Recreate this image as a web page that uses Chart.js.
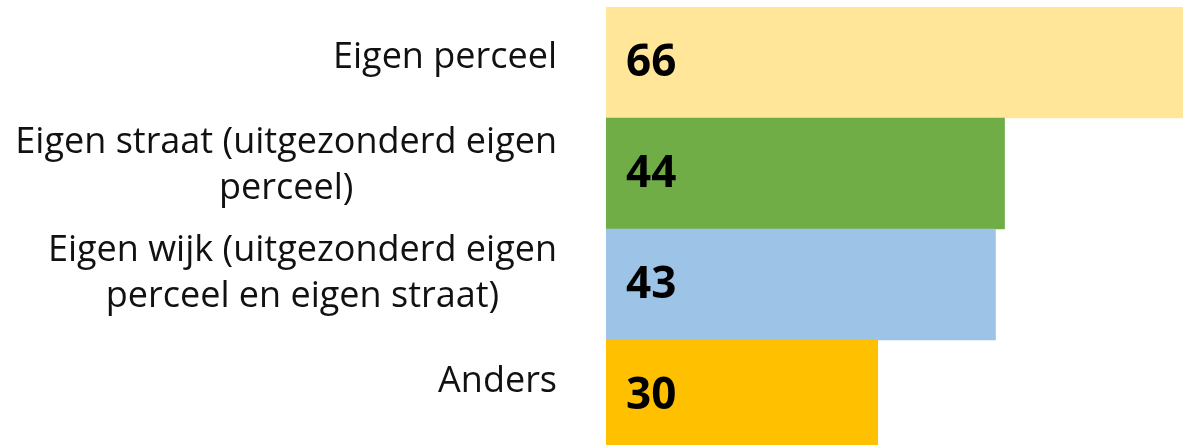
<!DOCTYPE html>
<html>
<head>
<meta charset="utf-8">
<script src="https://cdn.jsdelivr.net/npm/chart.js@4/dist/chart.umd.min.js"></script>
<style>
  html, body { margin: 0; padding: 0; background: #ffffff; overflow: hidden; }
  #wrap { position: relative; width: 1240px; height: 451px; }
</style>
</head>
<body>
<div id="wrap"><canvas id="c"></canvas></div>
<script>
const categories = [
  ["Eigen perceel"],
  ["Eigen straat (uitgezonderd eigen", "perceel)"],
  ["Eigen wijk (uitgezonderd eigen", "perceel en eigen straat)"],
  ["Anders"]
];
const values = [66, 44, 43, 30];
const barColors = ["#FFE699", "#70AD47", "#9DC3E6", "#FFC000"];
const xMin = 0;
const xMax = 70;

const LABEL_FONT = "36px 'Open Sans'";
const VALUE_FONT = "bold 44px 'Open Sans'";

const categoryLabels = {
  id: "categoryLabels",
  afterDraw(chart) {
    const ctx = chart.ctx;
    const yScale = chart.scales.y;
    ctx.save();
    ctx.font = LABEL_FONT;
    ctx.fillStyle = "#111111";
    ctx.textAlign = "center";
    ctx.textBaseline = "middle";
    const rightEdge = 557;
    const lineH = 46;
    categories.forEach((lines, i) => {
      const cy = yScale.getPixelForValue(i) - 5 - 3 * i;
      let widest = 0;
      lines.forEach(l => { widest = Math.max(widest, ctx.measureText(l).width); });
      const cx = rightEdge - widest / 2;
      const startY = cy - (lines.length - 1) * lineH / 2;
      lines.forEach((l, k) => ctx.fillText(l, cx, startY + k * lineH));
    });
    ctx.restore();
  }
};

const valueLabels = {
  id: "valueLabels",
  afterDatasetsDraw(chart) {
    const ctx = chart.ctx;
    const meta = chart.getDatasetMeta(0);
    ctx.save();
    ctx.font = VALUE_FONT;
    ctx.fillStyle = "#000000";
    ctx.textAlign = "left";
    ctx.textBaseline = "middle";
    meta.data.forEach((bar, i) => {
      ctx.fillText(String(values[i]), bar.base + 20, bar.y + 1);
    });
    ctx.restore();
  }
};

new Chart(document.getElementById("c"), {
  type: "bar",
  data: {
    labels: categories,
    datasets: [{
      data: values,
      backgroundColor: barColors,
      borderWidth: 0,
      barPercentage: 1,
      categoryPercentage: 1
    }]
  },
  options: {
    indexAxis: "y",
    responsive: true,
    maintainAspectRatio: false,
    animation: false,
    layout: { padding: { top: 7, right: 0, bottom: 0, left: 0 } },
    plugins: {
      legend: { display: false },
      tooltip: { enabled: false }
    },
    scales: {
      x: {
        display: false,
        min: xMin,
        max: xMax
      },
      y: {
        display: true,
        grid: { display: false, drawTicks: false },
        border: { display: false },
        ticks: { display: false },
        afterFit(scale) { scale.width = 606; }
      }
    }
  },
  plugins: [categoryLabels, valueLabels]
});
</script>
</body>
</html>
